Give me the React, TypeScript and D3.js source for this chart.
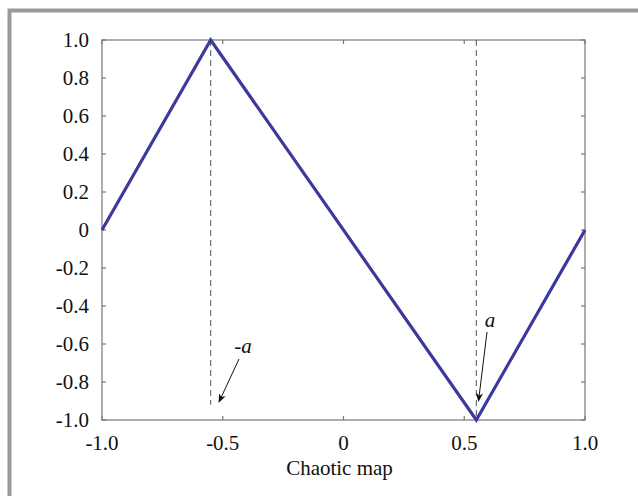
import React from "react";
import * as d3 from "d3";

const mapX = [-1.0, -0.55, 0.55, 1.0];
const mapY = [0, 1.0, -1.0, 0];
const xTicks = [-1.0, -0.5, 0, 0.5, 1.0];
const xTickLabels = ["-1.0", "-0.5", "0", "0.5", "1.0"];
const yTicks = [1.0, 0.8, 0.6, 0.4, 0.2, 0, -0.2, -0.4, -0.6, -0.8, -1.0];
const yTickLabels = ["1.0", "0.8", "0.6", "0.4", "0.2", "0", "-0.2", "-0.4", "-0.6", "-0.8", "-1.0"];
const aValue = 0.55;
const xLabel = "Chaotic map";

export default function App() {
  const W = 638, H = 496;
  const left = 102, right = 585, top = 40, bottom = 420;
  const x = d3.scaleLinear().domain([-1, 1]).range([left, right]);
  const y = d3.scaleLinear().domain([-1, 1]).range([bottom, top]);
  const line = d3.line<number>().x((_, i) => x(mapX[i])).y((d) => y(d));
  const font = "Liberation Serif";
  const axisColor = "#777";
  const tl = 4;
  return (
    <svg width={W} height={H} style={{ position: "absolute", left: 0, top: 0 }}>
      <defs>
        <marker id="arr" viewBox="0 0 10 10" refX="9" refY="5" markerWidth="9" markerHeight="9" orient="auto" markerUnits="userSpaceOnUse">
          <path d="M0,1 L10,5 L0,9 L3,5 Z" fill="#111" />
        </marker>
      </defs>
      <rect x={0} y={0} width={W} height={H} fill="#fff" />
      <rect x={9.5} y={10.5} width={W + 20} height={H + 20} fill="none" stroke="#9a9a9a" strokeWidth={4} />
      <rect x={left} y={top} width={right - left} height={bottom - top} fill="none" stroke={axisColor} strokeWidth={1.2} />
      {xTicks.map((t, i) => (
        <g key={"xt" + i}>
          <line x1={x(t)} x2={x(t)} y1={bottom} y2={bottom - tl} stroke={axisColor} strokeWidth={1.2} />
          <line x1={x(t)} x2={x(t)} y1={top} y2={top + tl} stroke={axisColor} strokeWidth={1.2} />
          <text x={x(t)} y={450} textAnchor="middle" fontFamily={font} fontSize={21} fill="#111">{xTickLabels[i]}</text>
        </g>
      ))}
      {yTicks.map((t, i) => (
        <g key={"yt" + i}>
          <line x1={left} x2={left + tl} y1={y(t)} y2={y(t)} stroke={axisColor} strokeWidth={1.2} />
          <line x1={right} x2={right - tl} y1={y(t)} y2={y(t)} stroke={axisColor} strokeWidth={1.2} />
          <text x={89} y={y(t)} dy="0.33em" textAnchor="end" fontFamily={font} fontSize={21} fill="#111">{yTickLabels[i]}</text>
        </g>
      ))}
      <text x={(left + right) / 2 - 4} y={475} textAnchor="middle" fontFamily={font} fontSize={21} fill="#111">{xLabel}</text>
      <line x1={x(-aValue)} x2={x(-aValue)} y1={y(1)} y2={y(-0.92)} stroke="#555" strokeWidth={1} strokeDasharray="6,4" />
      <line x1={x(aValue)} x2={x(aValue)} y1={y(1)} y2={y(-1)} stroke="#555" strokeWidth={1} strokeDasharray="6,4" />
      <path d={line(mapY) || ""} fill="none" stroke="#3b3a9c" strokeWidth={3.2} strokeLinejoin="miter" />
      <text x={243} y={353} textAnchor="middle" fontFamily={font} fontStyle="italic" fontSize={21} fill="#111">-a</text>
      <line x1={239} y1={359} x2={219} y2={402} stroke="#111" strokeWidth={1} markerEnd="url(#arr)" />
      <text x={490} y={327} textAnchor="middle" fontFamily={font} fontStyle="italic" fontSize={21} fill="#111">a</text>
      <line x1={487} y1={332} x2={478.5} y2={401} stroke="#111" strokeWidth={1} markerEnd="url(#arr)" />
    </svg>
  );
}
